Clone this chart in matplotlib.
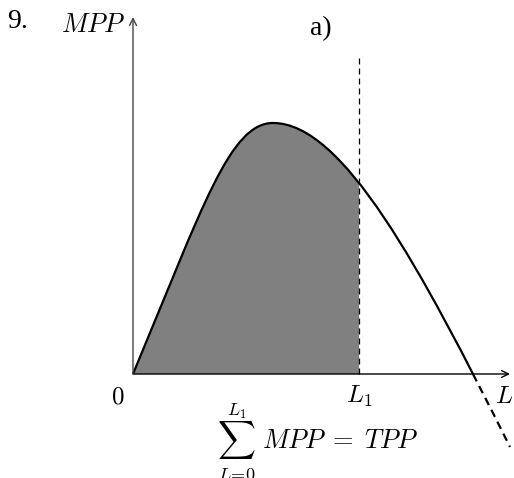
import matplotlib.pyplot as plt
from matplotlib.path import Path
from matplotlib.patches import PathPatch, Rectangle

plt.rcParams['mathtext.fontset'] = 'cm'

# =========================
# INPUT DATA (arbitrary units, origin at 0)
# =========================
# MPP curve as two cubic Bezier pieces: rising part up to the peak, falling part after it
rise_x = [0, 70, 97, 140]
rise_y = [0, 168, 251, 251]
fall_x = [140, 210, 287, 377]
fall_y = [251, 251, 107, -73]

L1 = 226            # position of L_1
solid_end_y = -6    # below this the curve is dashed
x_axis_end = 377
y_axis_end = 357
dash_top = 317      # top of the vertical dashed line at L_1

# =========================
# FIGURE
# =========================
fig = plt.figure(figsize=(5.14, 4.78), dpi=100)
ax = fig.add_axes([0, 0, 1, 1])
ax.set_xlim(-133, 381)
ax.set_ylim(-104, 374)
ax.axis("off")

verts = list(zip(rise_x, rise_y)) + list(zip(fall_x[1:], fall_y[1:]))
codes = [Path.MOVETO] + [Path.CURVE4] * 6
curve = Path(verts, codes)

# shaded area under the curve from 0 to L1
fill_path = Path(verts + [(0, 0)], codes + [Path.CLOSEPOLY])
fill = PathPatch(fill_path, facecolor="#808080", edgecolor="none", zorder=1)
ax.add_patch(fill)
fill.set_clip_path(Rectangle((0, 0), L1, 1000, transform=ax.transData))

# curve: solid above the axis, dashed below
solid = PathPatch(curve, fill=False, lw=1.6, edgecolor="black", zorder=3)
ax.add_patch(solid)
solid.set_clip_path(Rectangle((-500, solid_end_y), 2000, 2000, transform=ax.transData))

dashed = PathPatch(curve, fill=False, lw=1.6, edgecolor="black",
                   linestyle=(0, (3.6, 2.4)), zorder=3)
ax.add_patch(dashed)
dashed.set_clip_path(Rectangle((-500, solid_end_y - 2000), 2000, 2000, transform=ax.transData))

# vertical dashed line at L1
ax.plot([L1, L1], [0, dash_top], color="black", lw=0.9,
        linestyle=(0, (4.8, 3.2)), zorder=2)

# axes with arrows
ax.annotate("", xy=(x_axis_end, 0), xytext=(0, 0),
            arrowprops=dict(arrowstyle="->,head_length=0.5,head_width=0.25", lw=1.0,
                            color="black", shrinkA=0, shrinkB=0), zorder=4)
ax.annotate("", xy=(0, y_axis_end), xytext=(0, 0),
            arrowprops=dict(arrowstyle="->,head_length=0.5,head_width=0.25", lw=1.0,
                            color="#444444", shrinkA=0, shrinkB=0), zorder=4)

# =========================
# LABELS
# =========================
ax.text(-126, 353, "9.", fontsize=20, family="Liberation Serif", ha="left", va="center")
ax.text(188, 345, "a)", fontsize=20, family="Liberation Serif", ha="center", va="center")
ax.text(-8, 349, r"$MPP$", fontsize=19, ha="right", va="center")
ax.text(-15.5, -11, r"$0$", fontsize=18, ha="center", va="top")
ax.text(L1, -10, r"$L_1$", fontsize=18, ha="center", va="top")
ax.text(x_axis_end - 6, -10, r"$L$", fontsize=18, ha="center", va="top")

# sum formula under the axis
ax.text(103, -66, r"$\sum$", fontsize=19, ha="center", va="center")
ax.text(104, -37, r"$L_1$", fontsize=13, ha="center", va="center")
ax.text(104, -92, r"$L\!=\!0$", fontsize=13, ha="center", va="top")
ax.text(129, -74, r"$MPP\;=\;TPP$", fontsize=19, ha="left", va="baseline")

plt.savefig("out.png", dpi=100)
